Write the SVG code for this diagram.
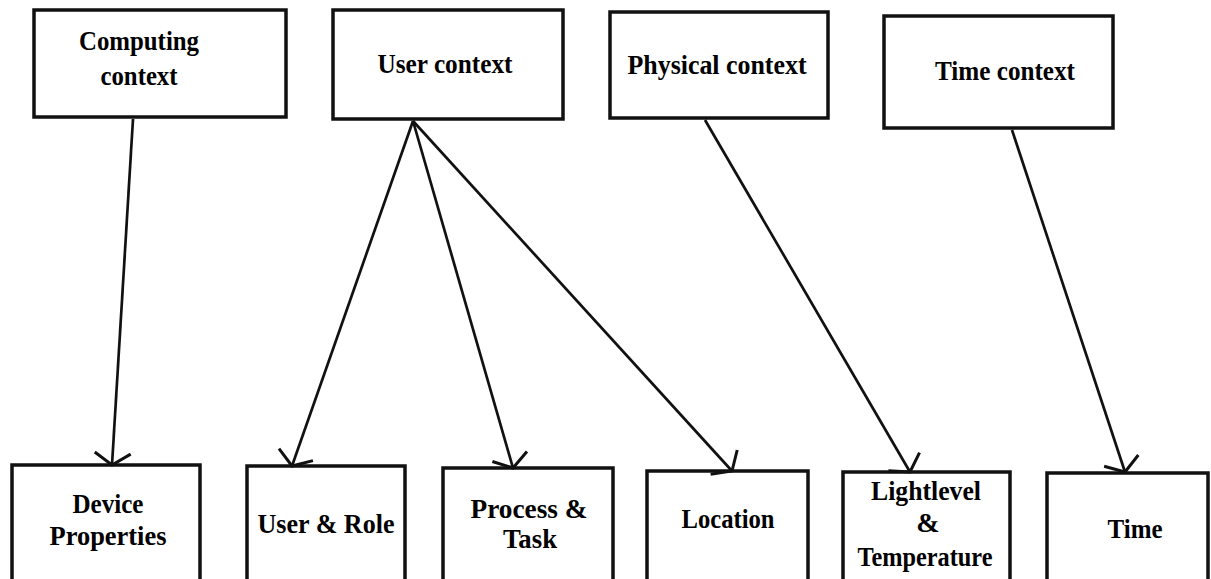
<svg xmlns="http://www.w3.org/2000/svg" width="1211" height="579" viewBox="0 0 1211 579">
<style>
.box{fill:#fff;stroke:#111;stroke-width:3.5}
.lbl{font-family:"Liberation Serif","Times New Roman",serif;font-weight:bold;font-size:28px;fill:#000;text-anchor:middle}
.edge{stroke:#111;stroke-width:2.7;fill:none;marker-end:url(#arr)}
</style>
<defs>
<marker id="arr" markerUnits="userSpaceOnUse" markerWidth="40" markerHeight="40" refX="0" refY="0" viewBox="-20 -20 40 40" orient="auto" overflow="visible">
<path d="M-12,-18 L0,0 L-12,18" fill="none" stroke="#111" stroke-width="3"/>
</marker>
</defs>
<rect width="1211" height="579" fill="#fff"/>
<g id="n-computing"><rect class="box" x="34" y="10" width="252" height="107"/><text class="lbl" x="139" y="50" textLength="120" lengthAdjust="spacingAndGlyphs">Computing</text><text class="lbl" x="139" y="85" textLength="77" lengthAdjust="spacingAndGlyphs">context</text></g>
<g id="n-user"><rect class="box" x="333" y="10" width="230" height="109"/><text class="lbl" x="445" y="73" textLength="135" lengthAdjust="spacingAndGlyphs">User context</text></g>
<g id="n-physical"><rect class="box" x="610" y="12" width="218" height="106"/><text class="lbl" x="717" y="74" textLength="179" lengthAdjust="spacingAndGlyphs">Physical context</text></g>
<g id="n-timectx"><rect class="box" x="884" y="16" width="229" height="112"/><text class="lbl" x="1005" y="80" textLength="140" lengthAdjust="spacingAndGlyphs">Time context</text></g>
<g id="n-device"><rect class="box" x="12" y="465" width="188" height="130"/><text class="lbl" x="108" y="513" textLength="71" lengthAdjust="spacingAndGlyphs">Device</text><text class="lbl" x="108" y="545" textLength="117" lengthAdjust="spacingAndGlyphs">Properties</text></g>
<g id="n-userrole"><rect class="box" x="247" y="466" width="158" height="130"/><text class="lbl" x="326" y="533" textLength="137" lengthAdjust="spacingAndGlyphs">User &amp; Role</text></g>
<g id="n-process"><rect class="box" x="443" y="468" width="170" height="130"/><text class="lbl" x="529" y="518" textLength="117" lengthAdjust="spacingAndGlyphs">Process &amp;</text><text class="lbl" x="530" y="548" textLength="54" lengthAdjust="spacingAndGlyphs">Task</text></g>
<g id="n-location"><rect class="box" x="647" y="471" width="161" height="130"/><text class="lbl" x="728" y="528" textLength="93" lengthAdjust="spacingAndGlyphs">Location</text></g>
<g id="n-light"><rect class="box" x="843" y="472" width="167" height="130"/><text class="lbl" x="926" y="500" textLength="110" lengthAdjust="spacingAndGlyphs">Lightlevel</text><text class="lbl" x="928" y="532">&amp;</text><text class="lbl" x="925" y="566" textLength="135" lengthAdjust="spacingAndGlyphs">Temperature</text></g>
<g id="n-time"><rect class="box" x="1047" y="473" width="161" height="130"/><text class="lbl" x="1135" y="538" textLength="55" lengthAdjust="spacingAndGlyphs">Time</text></g>
<g id="edges">
<line class="edge" x1="133" y1="119" x2="112" y2="465"/>
<line class="edge" x1="413" y1="121" x2="292" y2="466"/>
<line class="edge" x1="413" y1="121" x2="513" y2="468"/>
<line class="edge" x1="413" y1="121" x2="732" y2="471"/>
<line class="edge" x1="705" y1="120" x2="910" y2="472"/>
<line class="edge" x1="1012" y1="130" x2="1125" y2="472"/>
</g>
</svg>
